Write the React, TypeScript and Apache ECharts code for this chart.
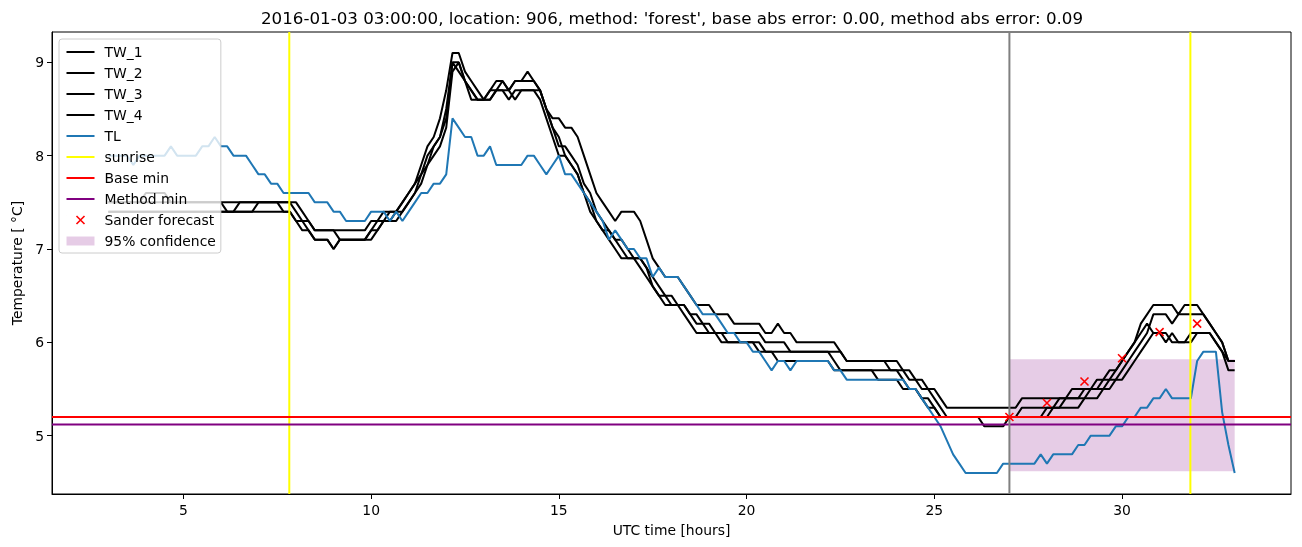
import React, { useEffect, useRef } from "react";
import * as echarts from "echarts";

// ---- data (10-minute samples from 03:00 to 33:00 UTC hours) ----
const START_HOUR = 3;
const STEP_HOUR = 1 / 6;

const TW_1 = [
  7.5, 7.5, 7.5, 7.5, 7.5, 7.5,
  7.6, 7.6, 7.6, 7.6, 7.5, 7.5,
  7.5, 7.5, 7.5, 7.5, 7.5, 7.5,
  7.5, 7.5, 7.5, 7.5, 7.5, 7.5,
  7.5, 7.5, 7.5, 7.5, 7.5, 7.5,
  7.5, 7.4, 7.3, 7.2, 7.2, 7.2,
  7.2, 7.2, 7.2, 7.2, 7.2, 7.2,
  7.3, 7.3, 7.4, 7.4, 7.4, 7.5,
  7.6, 7.7, 7.9, 8.1, 8.2, 8.4,
  8.7, 9.1, 9.1, 8.9, 8.8, 8.7,
  8.6, 8.7, 8.8, 8.8, 8.7, 8.8,
  8.8, 8.9, 8.8, 8.7, 8.5, 8.4,
  8.4, 8.3, 8.3, 8.2, 8.0, 7.8,
  7.6, 7.5, 7.4, 7.3, 7.4, 7.4,
  7.4, 7.3, 7.1, 6.9, 6.8, 6.7,
  6.7, 6.7, 6.6, 6.5, 6.4, 6.4,
  6.4, 6.3, 6.3, 6.3, 6.2, 6.2,
  6.2, 6.2, 6.2, 6.1, 6.1, 6.2,
  6.1, 6.1, 6.0, 6.0, 6.0, 6.0,
  6.0, 6.0, 6.0, 5.9, 5.8, 5.8,
  5.8, 5.8, 5.8, 5.8, 5.8, 5.8,
  5.8, 5.7, 5.7, 5.6, 5.6, 5.5,
  5.5, 5.4, 5.3, 5.3, 5.3, 5.3,
  5.3, 5.3, 5.3, 5.3, 5.3, 5.3,
  5.3, 5.3, 5.4, 5.4, 5.4, 5.4,
  5.4, 5.4, 5.4, 5.4, 5.5, 5.5,
  5.5, 5.5, 5.6, 5.6, 5.7, 5.7,
  5.8, 5.9, 6.0, 6.2, 6.3, 6.4,
  6.4, 6.4, 6.4, 6.3, 6.4, 6.4,
  6.4, 6.3, 6.2, 6.1, 6.0, 5.8,
  5.8,
];

const TW_2 = [
  7.5, 7.5, 7.5, 7.5, 7.5, 7.5,
  7.5, 7.5, 7.5, 7.5, 7.5, 7.5,
  7.5, 7.5, 7.5, 7.5, 7.5, 7.5,
  7.5, 7.4, 7.4, 7.5, 7.5, 7.5,
  7.5, 7.5, 7.5, 7.5, 7.5, 7.5,
  7.4, 7.3, 7.3, 7.2, 7.2, 7.2,
  7.2, 7.1, 7.1, 7.1, 7.1, 7.1,
  7.2, 7.3, 7.3, 7.4, 7.4, 7.5,
  7.6, 7.7, 7.8, 8.0, 8.1, 8.2,
  8.5, 9.0, 9.0, 8.8, 8.7, 8.6,
  8.6, 8.6, 8.7, 8.8, 8.7, 8.8,
  8.8, 8.8, 8.8, 8.7, 8.5, 8.3,
  8.1, 8.1, 8.0, 7.9, 7.7, 7.6,
  7.4, 7.3, 7.2, 7.1, 7.0, 6.9,
  6.9, 6.9, 6.8, 6.7, 6.6, 6.5,
  6.4, 6.4, 6.4, 6.3, 6.3, 6.2,
  6.2, 6.1, 6.1, 6.1, 6.1, 6.1,
  6.1, 6.1, 6.1, 6.0, 6.0, 6.0,
  6.0, 5.9, 5.9, 5.9, 5.9, 5.9,
  5.9, 5.9, 5.9, 5.9, 5.8, 5.8,
  5.8, 5.8, 5.8, 5.8, 5.8, 5.7,
  5.7, 5.7, 5.6, 5.6, 5.5, 5.5,
  5.4, 5.3, 5.2, 5.2, 5.2, 5.2,
  5.2, 5.2, 5.2, 5.2, 5.2, 5.2,
  5.2, 5.2, 5.3, 5.3, 5.3, 5.3,
  5.3, 5.3, 5.4, 5.4, 5.4, 5.4,
  5.4, 5.5, 5.5, 5.5, 5.6, 5.6,
  5.7, 5.8, 5.9, 6.0, 6.1, 6.3,
  6.3, 6.3, 6.2, 6.3, 6.3, 6.3,
  6.3, 6.3, 6.2, 6.1, 6.0, 5.8,
  5.8,
];

const TW_3 = [
  7.4, 7.4, 7.4, 7.4, 7.4, 7.4,
  7.4, 7.4, 7.4, 7.4, 7.4, 7.4,
  7.4, 7.4, 7.4, 7.4, 7.4, 7.4,
  7.4, 7.4, 7.4, 7.4, 7.4, 7.4,
  7.5, 7.5, 7.5, 7.5, 7.4, 7.4,
  7.3, 7.3, 7.2, 7.1, 7.1, 7.1,
  7.0, 7.1, 7.1, 7.1, 7.1, 7.1,
  7.2, 7.2, 7.3, 7.3, 7.4, 7.4,
  7.5, 7.6, 7.8, 7.9, 8.1, 8.2,
  8.4, 9.0, 8.9, 8.8, 8.6, 8.6,
  8.6, 8.7, 8.7, 8.7, 8.6, 8.7,
  8.7, 8.7, 8.7, 8.6, 8.4, 8.2,
  8.0, 8.0, 7.9, 7.8, 7.6, 7.5,
  7.3, 7.2, 7.2, 7.1, 7.1, 7.0,
  6.9, 6.8, 6.7, 6.6, 6.5, 6.5,
  6.5, 6.4, 6.4, 6.3, 6.2, 6.2,
  6.1, 6.1, 6.1, 6.0, 6.0, 6.0,
  6.0, 6.0, 6.0, 5.9, 5.9, 5.9,
  5.9, 5.9, 5.9, 5.9, 5.9, 5.9,
  5.9, 5.9, 5.8, 5.7, 5.7, 5.7,
  5.7, 5.7, 5.7, 5.7, 5.7, 5.7,
  5.7, 5.6, 5.5, 5.5, 5.4, 5.4,
  5.3, 5.2, 5.2, 5.2, 5.2, 5.2,
  5.2, 5.2, 5.1, 5.1, 5.1, 5.1,
  5.2, 5.2, 5.2, 5.2, 5.2, 5.2,
  5.3, 5.3, 5.3, 5.4, 5.4, 5.4,
  5.5, 5.5, 5.5, 5.6, 5.6, 5.7,
  5.8, 5.9, 6.0, 6.1, 6.2, 6.1,
  6.1, 6.0, 6.1, 6.0, 6.0, 6.1,
  6.1, 6.1, 6.1, 6.0, 5.9, 5.8,
  5.8,
];

const TW_4 = [
  7.4, 7.4, 7.4, 7.4, 7.4, 7.4,
  7.4, 7.4, 7.4, 7.4, 7.4, 7.4,
  7.4, 7.4, 7.4, 7.4, 7.4, 7.4,
  7.4, 7.4, 7.4, 7.4, 7.4, 7.4,
  7.4, 7.4, 7.4, 7.4, 7.4, 7.4,
  7.3, 7.2, 7.2, 7.1, 7.1, 7.1,
  7.0, 7.1, 7.1, 7.1, 7.1, 7.1,
  7.1, 7.2, 7.3, 7.3, 7.3, 7.4,
  7.5, 7.6, 7.7, 7.9, 8.0, 8.1,
  8.3, 8.9, 9.0, 8.8, 8.7, 8.6,
  8.6, 8.6, 8.7, 8.7, 8.7, 8.6,
  8.7, 8.7, 8.7, 8.7, 8.5, 8.3,
  8.2, 8.0, 7.9, 7.8, 7.6, 7.4,
  7.3, 7.2, 7.1, 7.0, 6.9, 6.9,
  6.9, 6.9, 6.8, 6.6, 6.5, 6.4,
  6.4, 6.4, 6.3, 6.2, 6.1, 6.1,
  6.1, 6.1, 6.0, 6.0, 6.0, 6.0,
  6.0, 6.0, 5.9, 5.9, 5.9, 5.8,
  5.8, 5.8, 5.8, 5.8, 5.8, 5.8,
  5.8, 5.8, 5.7, 5.7, 5.7, 5.7,
  5.7, 5.7, 5.7, 5.6, 5.6, 5.6,
  5.6, 5.5, 5.5, 5.5, 5.4, 5.3,
  5.3, 5.2, 5.2, 5.2, 5.2, 5.2,
  5.2, 5.2, 5.2, 5.2, 5.2, 5.2,
  5.2, 5.2, 5.2, 5.2, 5.2, 5.2,
  5.2, 5.3, 5.3, 5.3, 5.3, 5.3,
  5.4, 5.4, 5.4, 5.5, 5.5, 5.6,
  5.6, 5.7, 5.8, 5.9, 6.0, 6.1,
  6.1, 6.1, 6.0, 6.0, 6.0, 6.0,
  6.1, 6.1, 6.1, 6.0, 5.9, 5.7,
  5.7,
];

const TL = [
  8.0, 8.0, 8.0, 8.0, 7.9, 8.0,
  8.0, 8.0, 8.0, 8.0, 8.1, 8.0,
  8.0, 8.0, 8.0, 8.1, 8.1, 8.2,
  8.1, 8.1, 8.0, 8.0, 8.0, 7.9,
  7.8, 7.8, 7.7, 7.7, 7.6, 7.6,
  7.6, 7.6, 7.6, 7.5, 7.5, 7.5,
  7.4, 7.4, 7.3, 7.3, 7.3, 7.3,
  7.4, 7.4, 7.4, 7.3, 7.4, 7.3,
  7.4, 7.5, 7.6, 7.6, 7.7, 7.7,
  7.8, 8.4, 8.3, 8.2, 8.2, 8.0,
  8.0, 8.1, 7.9, 7.9, 7.9, 7.9,
  7.9, 8.0, 8.0, 7.9, 7.8, 7.9,
  8.0, 7.8, 7.8, 7.7, 7.6, 7.5,
  7.4, 7.3, 7.1, 7.2, 7.1, 7.0,
  7.0, 6.9, 6.9, 6.7, 6.8, 6.7,
  6.7, 6.7, 6.6, 6.5, 6.4, 6.3,
  6.3, 6.3, 6.2, 6.1, 6.1, 6.0,
  6.0, 5.9, 5.9, 5.8, 5.7, 5.8,
  5.8, 5.7, 5.8, 5.8, 5.8, 5.8,
  5.8, 5.8, 5.7, 5.7, 5.6, 5.6,
  5.6, 5.6, 5.6, 5.6, 5.6, 5.6,
  5.6, 5.6, 5.5, 5.5, 5.4, 5.3,
  5.2, 5.1, 4.95, 4.8, 4.7, 4.6,
  4.6, 4.6, 4.6, 4.6, 4.6, 4.7,
  4.7, 4.7, 4.7, 4.7, 4.7, 4.8,
  4.7, 4.8, 4.8, 4.8, 4.8, 4.9,
  4.9, 5.0, 5.0, 5.0, 5.0, 5.1,
  5.1, 5.2, 5.2, 5.3, 5.3, 5.4,
  5.4, 5.5, 5.4, 5.4, 5.4, 5.4,
  5.8, 5.9, 5.9, 5.9, 5.25, 4.9,
  4.6,
];

const SUNRISE_HOURS = [7.82, 31.82];
const BASE_MIN = 5.2;
const METHOD_MIN = 5.12;
const FORECAST_TIME = 27;

const FORECAST_HOURS = [27, 28, 29, 30, 31, 32];
const FORECAST_VALUES = [5.2, 5.35, 5.58, 5.83, 6.11, 6.2];

const CONF_HOURS = [27, 33];
const CONF_LOW = 4.62;
const CONF_HIGH = 5.82;

const X_MIN = 1.5;
const X_MAX = 34.5;
const Y_MIN = 4.375;
const Y_MAX = 9.325;
const X_TICKS = [5, 10, 15, 20, 25, 30];
const Y_TICKS = [5, 6, 7, 8, 9];

const TITLE =
  "2016-01-03 03:00:00, location: 906, method: 'forest', base abs error: 0.00, method abs error: 0.09";

const FONT = "'DejaVu Sans', sans-serif";

// legend glyphs (invisible corner segments fix the icon box to 28x9)
const LINE_ICON = "path://M0,0L0.01,0M0,3.5H28V5.5H0ZM28,9L27.99,9";
const X_ICON = "path://M0,0L0.01,0M10,0.5L18,8.5M18,0.5L10,8.5M28,9L27.99,9";

const toPairs = (vals: number[]) =>
  vals.map((v, i) => [START_HOUR + i * STEP_HOUR, v]);

export default function App() {
  const ref = useRef<HTMLDivElement>(null);

  useEffect(() => {
    if (!ref.current) return;
    const chart = echarts.init(ref.current, null, { renderer: "svg" });

    const twSeries = [TW_1, TW_2, TW_3, TW_4].map((vals, k) => ({
      name: `TW_${k + 1}`,
      type: "line",
      data: toPairs(vals),
      symbol: "none",
      color: "#000000",
      lineStyle: { color: "#000000", width: 2 },
      z: 2,
    }));

    const vline = (name: string, x: number, color: string) => ({
      name,
      type: "line",
      data: [
        [x, Y_MIN],
        [x, Y_MAX],
      ],
      symbol: "none",
      color,
      lineStyle: { color, width: 2 },
      z: 3,
    });
    const hline = (name: string, y: number, color: string) => ({
      name,
      type: "line",
      data: [
        [X_MIN, y],
        [X_MAX, y],
      ],
      symbol: "none",
      color,
      lineStyle: { color, width: 2 },
      z: 3,
    });

    const lineItem = (name: string, color: string) => ({
      name,
      icon: LINE_ICON,
      itemStyle: { color, borderWidth: 0 },
    });

    const option: any = {
      animation: false,
      grid: {
        left: 52,
        top: 32,
        width: 1239,
        height: 462,
        show: true,
        borderColor: "#000",
        borderWidth: 1,
      },
      graphic: [
        {
          type: "text",
          x: 672,
          y: 18,
          style: {
            text: TITLE,
            fill: "#000",
            font: `16.7px ${FONT}`,
            textAlign: "center",
            textVerticalAlign: "middle",
          },
        },
      ],
      legend: {
        orient: "vertical",
        left: 59,
        top: 39,
        padding: [6, 5, 5, 5],
        itemWidth: 28,
        itemHeight: 9,
        itemGap: 7,
        backgroundColor: "rgba(255,255,255,0.8)",
        borderColor: "#cccccc",
        borderWidth: 1,
        borderRadius: 3,
        z: 10,
        textStyle: {
          fontFamily: FONT,
          fontSize: 13.9,
          color: "#000",
          lineHeight: 14,
          padding: [0, 0, 0, 5],
        },
        data: [
          lineItem("TW_1", "#000000"),
          lineItem("TW_2", "#000000"),
          lineItem("TW_3", "#000000"),
          lineItem("TW_4", "#000000"),
          lineItem("TL", "#1f77b4"),
          lineItem("sunrise", "#ffff00"),
          lineItem("Base min", "#ff0000"),
          lineItem("Method min", "#800080"),
          {
            name: "Sander forecast",
            icon: X_ICON,
            itemStyle: { color: "none", borderColor: "#ff0000", borderWidth: 1.6 },
          },
          {
            name: "95% confidence",
            icon: "rect",
            itemStyle: { color: "rgba(128,0,128,0.2)", borderWidth: 0 },
          },
        ],
      },
      xAxis: {
        type: "value",
        min: X_MIN,
        max: X_MAX,
        name: "UTC time [hours]",
        nameLocation: "middle",
        nameGap: 29,
        nameTextStyle: { fontFamily: FONT, fontSize: 13.9, color: "#000" },
        splitLine: { show: false },
        axisLine: { show: true, lineStyle: { color: "#000", width: 1 } },
        axisTick: {
          show: true,
          length: 5,
          lineStyle: { color: "#000", width: 1 },
          customValues: X_TICKS,
        },
        axisLabel: {
          fontFamily: FONT,
          fontSize: 13.9,
          color: "#000",
          margin: 9,
          customValues: X_TICKS,
        },
      },
      yAxis: {
        type: "value",
        min: Y_MIN,
        max: Y_MAX,
        name: "Temperature [ °C]",
        nameLocation: "middle",
        nameGap: 27,
        nameTextStyle: { fontFamily: FONT, fontSize: 13.9, color: "#000" },
        splitLine: { show: false },
        axisLine: { show: true, lineStyle: { color: "#000", width: 1 } },
        axisTick: {
          show: true,
          length: 5,
          lineStyle: { color: "#000", width: 1 },
          customValues: Y_TICKS,
        },
        axisLabel: {
          fontFamily: FONT,
          fontSize: 13.9,
          color: "#000",
          margin: 8,
          customValues: Y_TICKS,
        },
      },
      series: [
        ...twSeries,
        {
          name: "TL",
          type: "line",
          data: toPairs(TL),
          symbol: "none",
          color: "#1f77b4",
          lineStyle: { color: "#1f77b4", width: 2 },
          z: 2,
        },
        vline("sunrise", SUNRISE_HOURS[0], "#ffff00"),
        vline("sunrise", SUNRISE_HOURS[1], "#ffff00"),
        hline("Base min", BASE_MIN, "#ff0000"),
        hline("Method min", METHOD_MIN, "#800080"),
        {
          name: "Sander forecast",
          type: "scatter",
          data: FORECAST_HOURS.map((h, i) => [h, FORECAST_VALUES[i]]),
          symbol: "path://M0,0L1,1M1,0L0,1",
          symbolSize: 8,
          color: "#ff0000",
          itemStyle: {
            color: "none",
            borderColor: "#ff0000",
            borderWidth: 1.6,
            opacity: 1,
          },
          z: 4,
        },
        {
          name: "95% confidence",
          type: "line",
          data: [],
          symbol: "none",
          color: "rgba(128,0,128,0.2)",
          markArea: {
            silent: true,
            itemStyle: { color: "rgba(128,0,128,0.2)" },
            data: [
              [
                { coord: [CONF_HOURS[0], CONF_LOW] },
                { coord: [CONF_HOURS[1], CONF_HIGH] },
              ],
            ],
          },
          z: 1,
        },
        {
          name: "forecast time",
          type: "line",
          data: [
            [FORECAST_TIME, Y_MIN],
            [FORECAST_TIME, Y_MAX],
          ],
          symbol: "none",
          lineStyle: { color: "#808080", width: 2 },
          z: 3,
        },
      ],
    };

    chart.setOption(option);
    return () => chart.dispose();
  }, []);

  return (
    <div
      ref={ref}
      style={{ position: "fixed", left: 0, top: 0, width: 1302, height: 547 }}
    />
  );
}
